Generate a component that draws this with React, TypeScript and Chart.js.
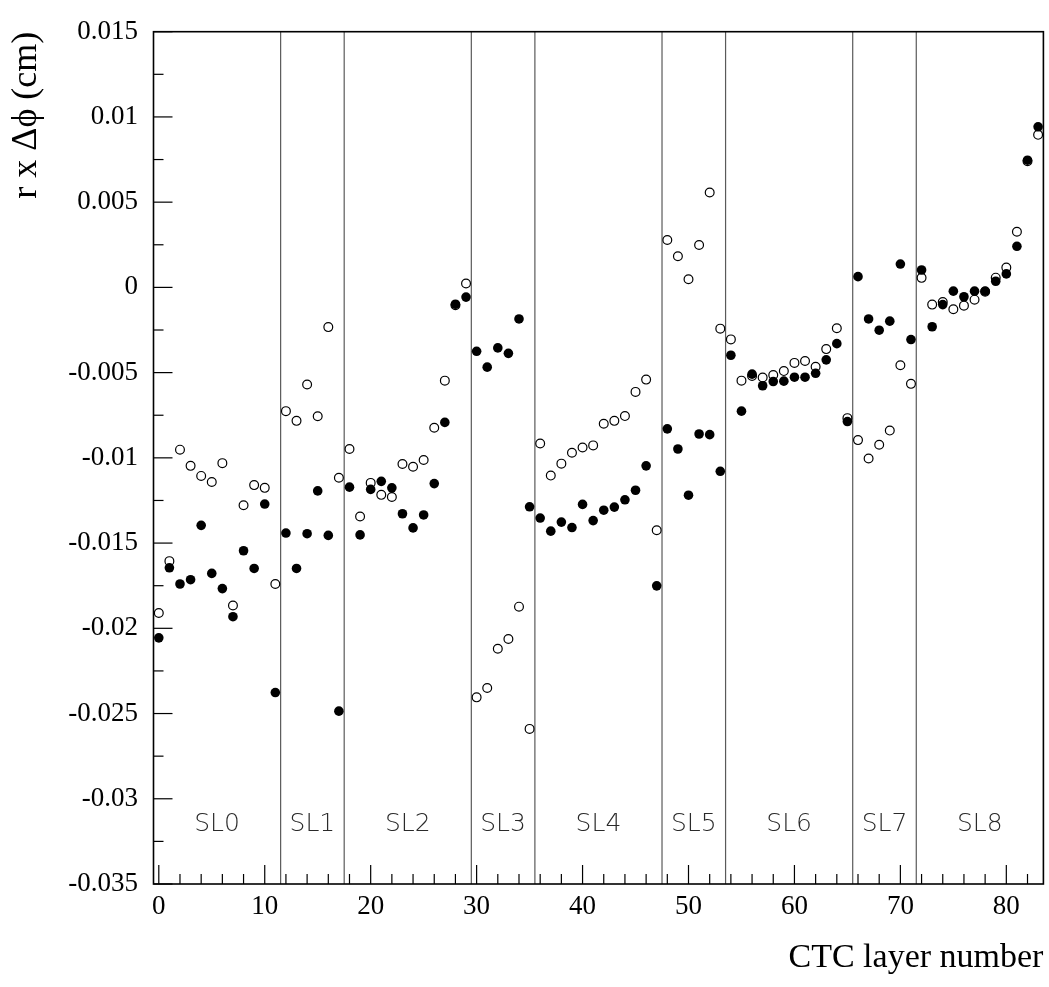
import React, { useEffect, useRef } from "react";
import { Chart, registerables } from "chart.js";

Chart.register(...registerables);

// CTC layer numbers (x categories)
const layerNumbers = [
  0, 1, 2, 3, 4, 5, 6, 7, 8, 9, 10, 11, 12, 13, 14, 15, 16, 17, 18, 19,
  20, 21, 22, 23, 24, 25, 26, 27, 28, 29, 30, 31, 32, 33, 34, 35, 36, 37, 38, 39,
  40, 41, 42, 43, 44, 45, 46, 47, 48, 49, 50, 51, 52, 53, 54, 55, 56, 57, 58, 59,
  60, 61, 62, 63, 64, 65, 66, 67, 68, 69, 70, 71, 72, 73, 74, 75, 76, 77, 78, 79,
  80, 81, 82, 83,
];

// filled markers
const filledValues = [
  -0.02056, -0.01645, -0.0174, -0.01715, -0.01396, -0.01678, -0.01767, -0.01932, -0.01545, -0.01649,
  -0.01271, -0.02377, -0.01441, -0.01649, -0.01445, -0.01194, -0.01455, -0.02486, -0.01172, -0.01452,
  -0.01185, -0.01138, -0.01176, -0.01328, -0.01411, -0.01335, -0.01151, -0.00792, -0.00099, -0.00057,
  -0.00375, -0.00468, -0.00355, -0.00387, -0.00185, -0.01287, -0.01353, -0.0143, -0.01377, -0.01409,
  -0.01273, -0.01368, -0.01307, -0.01289, -0.01246, -0.0119, -0.01047, -0.01751, -0.0083, -0.00948,
  -0.01219, -0.0086, -0.00864, -0.01079, -0.00398, -0.00726, -0.00509, -0.00577, -0.00552, -0.0055,
  -0.00527, -0.00527, -0.00504, -0.00425, -0.0033, -0.00787, 0.00063, -0.00185, -0.00251, -0.00198,
  0.00137, -0.00306, 0.00102, -0.00231, -0.00101, -0.00022, -0.00055, -0.00022, -0.00022, 0.00036,
  0.00079, 0.00241, 0.00746, 0.00942,
];

// open markers
const openValues = [
  -0.0191, -0.01606, -0.00952, -0.01047, -0.01106, -0.01142, -0.01031, -0.01866, -0.01278, -0.0116,
  -0.01176, -0.0174, -0.00726, -0.00783, -0.0057, -0.00756, -0.00233, -0.01117, -0.00948, -0.01344,
  -0.01147, -0.01217, -0.0123, -0.01036, -0.01052, -0.01013, -0.00823, -0.00547, -0.00105, 0.00023,
  -0.02405, -0.0235, -0.0212, -0.02063, -0.01873, -0.0259, -0.00916, -0.01104, -0.01034, -0.0097,
  -0.00939, -0.00927, -0.008, -0.00783, -0.00755, -0.00613, -0.00541, -0.01425, 0.00278, 0.00183,
  0.00048, 0.00249, 0.00557, -0.00242, -0.00305, -0.00547, -0.0052, -0.00529, -0.00514, -0.00491,
  -0.00443, -0.00432, -0.00466, -0.00362, -0.0024, -0.00767, -0.00896, -0.01004, -0.00923, -0.0084,
  -0.00457, -0.00566, 0.00056, -0.00101, -0.00086, -0.00128, -0.00107, -0.00072, -0.00025, 0.00057,
  0.00116, 0.00326, 0.0074, 0.00895,
];

const xTickValues = [0, 10, 20, 30, 40, 50, 60, 70, 80];
const yTickValues = [-0.035, -0.03, -0.025, -0.02, -0.015, -0.01, -0.005, 0, 0.005, 0.01, 0.015];
const yTickLabels = ["-0.035", "-0.03", "-0.025", "-0.02", "-0.015", "-0.01", "-0.005", "0", "0.005", "0.01", "0.015"];

const superLayerBounds = [11.5, 17.5, 29.5, 35.5, 47.5, 53.5, 65.5, 71.5];
const superLayerLabels = ["SL0", "SL1", "SL2", "SL3", "SL4", "SL5", "SL6", "SL7", "SL8"];
const superLayerCenters = [5.5, 14.5, 23.5, 32.5, 41.5, 50.5, 59.5, 68.5, 77.5];

const X_MIN = -0.5;
const X_MAX = 83.5;
const Y_MIN = -0.035;
const Y_MAX = 0.015;

const W = 1049;
const H = 987;

const rootStylePlugin = {
  id: "rootStyle",
  beforeDatasetsDraw(chart: any) {
    const { ctx, chartArea: a, scales } = chart;
    const x = scales.x;
    const y = scales.y;
    ctx.save();
    ctx.strokeStyle = "#5a5a5a";
    ctx.lineWidth = 1.2;
    for (const b of superLayerBounds) {
      const px = x.getPixelForValue(b);
      ctx.beginPath();
      ctx.moveTo(px, a.top);
      ctx.lineTo(px, a.bottom);
      ctx.stroke();
    }
    ctx.fillStyle = "#2a2a2a";
    ctx.font = '200 25px "DejaVu Sans"';
    ctx.textAlign = "center";
    ctx.textBaseline = "middle";
    const labelY = y.getPixelForValue(-0.0315);
    superLayerLabels.forEach((t, i) => {
      ctx.fillText(t, x.getPixelForValue(superLayerCenters[i]), labelY);
    });
    ctx.restore();
  },
  afterDatasetsDraw(chart: any) {
    const { ctx, chartArea: a, scales } = chart;
    const x = scales.x;
    const y = scales.y;
    ctx.save();
    ctx.strokeStyle = "#000";
    ctx.lineWidth = 1.2;
    // y ticks (inward from the left edge)
    for (let v = Y_MIN; v <= Y_MAX + 1e-9; v += 0.0025) {
      const major = Math.abs(v / 0.005 - Math.round(v / 0.005)) < 1e-6;
      const py = y.getPixelForValue(v);
      ctx.beginPath();
      ctx.moveTo(a.left, py);
      ctx.lineTo(a.left + (major ? 19 : 10), py);
      ctx.stroke();
    }
    // x ticks (upward from the bottom edge)
    for (let v = 0; v <= 83; v += 2) {
      const major = v % 10 === 0;
      const px = x.getPixelForValue(v);
      ctx.beginPath();
      ctx.moveTo(px, a.bottom);
      ctx.lineTo(px, a.bottom - (major ? 19 : 10));
      ctx.stroke();
    }
    // frame
    ctx.lineWidth = 1.6;
    ctx.strokeRect(a.left, a.top, a.right - a.left, a.bottom - a.top);
    ctx.restore();
  },
};

export default function App() {
  const canvasRef = useRef<HTMLCanvasElement | null>(null);

  useEffect(() => {
    const canvas = canvasRef.current;
    if (!canvas) return;
    const chart = new Chart(canvas, {
      type: "scatter",
      data: {
        datasets: [
          {
            label: "filled",
            data: layerNumbers.map((l, i) => ({ x: l, y: filledValues[i] })),
            pointStyle: "circle",
            pointRadius: 4.8,
            pointBackgroundColor: "#000",
            pointBorderColor: "#000",
            pointBorderWidth: 0,
            showLine: false,
            clip: false as any,
          },
          {
            label: "open",
            data: layerNumbers.map((l, i) => ({ x: l, y: openValues[i] })),
            pointStyle: "circle",
            pointRadius: 4.4,
            pointBackgroundColor: "rgba(0,0,0,0)",
            pointBorderColor: "#000",
            pointBorderWidth: 1.2,
            showLine: false,
            clip: false as any,
          },
        ],
      },
      options: {
        responsive: false,
        animation: false,
        events: [],
        layout: { padding: { left: 0, top: 24.5, right: W - 1044, bottom: 0 } },
        plugins: {
          legend: { display: false },
          tooltip: { enabled: false },
          title: { display: false },
        },
        scales: {
          x: {
            type: "linear",
            min: X_MIN,
            max: X_MAX,
            afterBuildTicks: (scale: any) => {
              scale.ticks = xTickValues.map((v) => ({ value: v }));
            },
            afterFit: (scale: any) => {
              scale.height = H - 884;
            },
            grid: { display: false, drawTicks: false },
            border: { display: false },
            ticks: {
              autoSkip: false,
              maxRotation: 0,
              padding: 7,
              color: "#000",
              font: { family: '"Liberation Serif"', size: 27 },
              callback: (v: any) => String(v),
            },
            title: {
              display: true,
              text: "CTC layer number",
              align: "end",
              color: "#000",
              font: { family: '"Liberation Serif"', size: 34 },
              padding: { top: 0, bottom: 9 },
            },
          },
          y: {
            type: "linear",
            min: Y_MIN,
            max: Y_MAX,
            afterBuildTicks: (scale: any) => {
              scale.ticks = yTickValues.map((v) => ({ value: v }));
            },
            afterFit: (scale: any) => {
              scale.width = 153.5;
            },
            grid: { display: false, drawTicks: false },
            border: { display: false },
            ticks: {
              autoSkip: false,
              padding: 15.5,
              color: "#000",
              font: { family: '"Liberation Serif"', size: 27 },
              callback: (v: any) => {
                const idx = yTickValues.findIndex((t) => Math.abs(t - v) < 1e-9);
                return idx >= 0 ? yTickLabels[idx] : "";
              },
            },
            title: {
              display: true,
              text: "r x \u0394\u03D5 (cm)",
              align: "end",
              color: "#000",
              font: { family: '"Liberation Serif"', size: 36 },
              padding: { top: 5, bottom: 0 },
            },
          },
        },
      },
      plugins: [rootStylePlugin],
    });
    return () => chart.destroy();
  }, []);

  return (
    <div style={{ position: "absolute", left: 0, top: 0, width: W, height: H, background: "#fff" }}>
      <canvas ref={canvasRef} width={W} height={H} style={{ width: W, height: H, display: "block" }} />
    </div>
  );
}
